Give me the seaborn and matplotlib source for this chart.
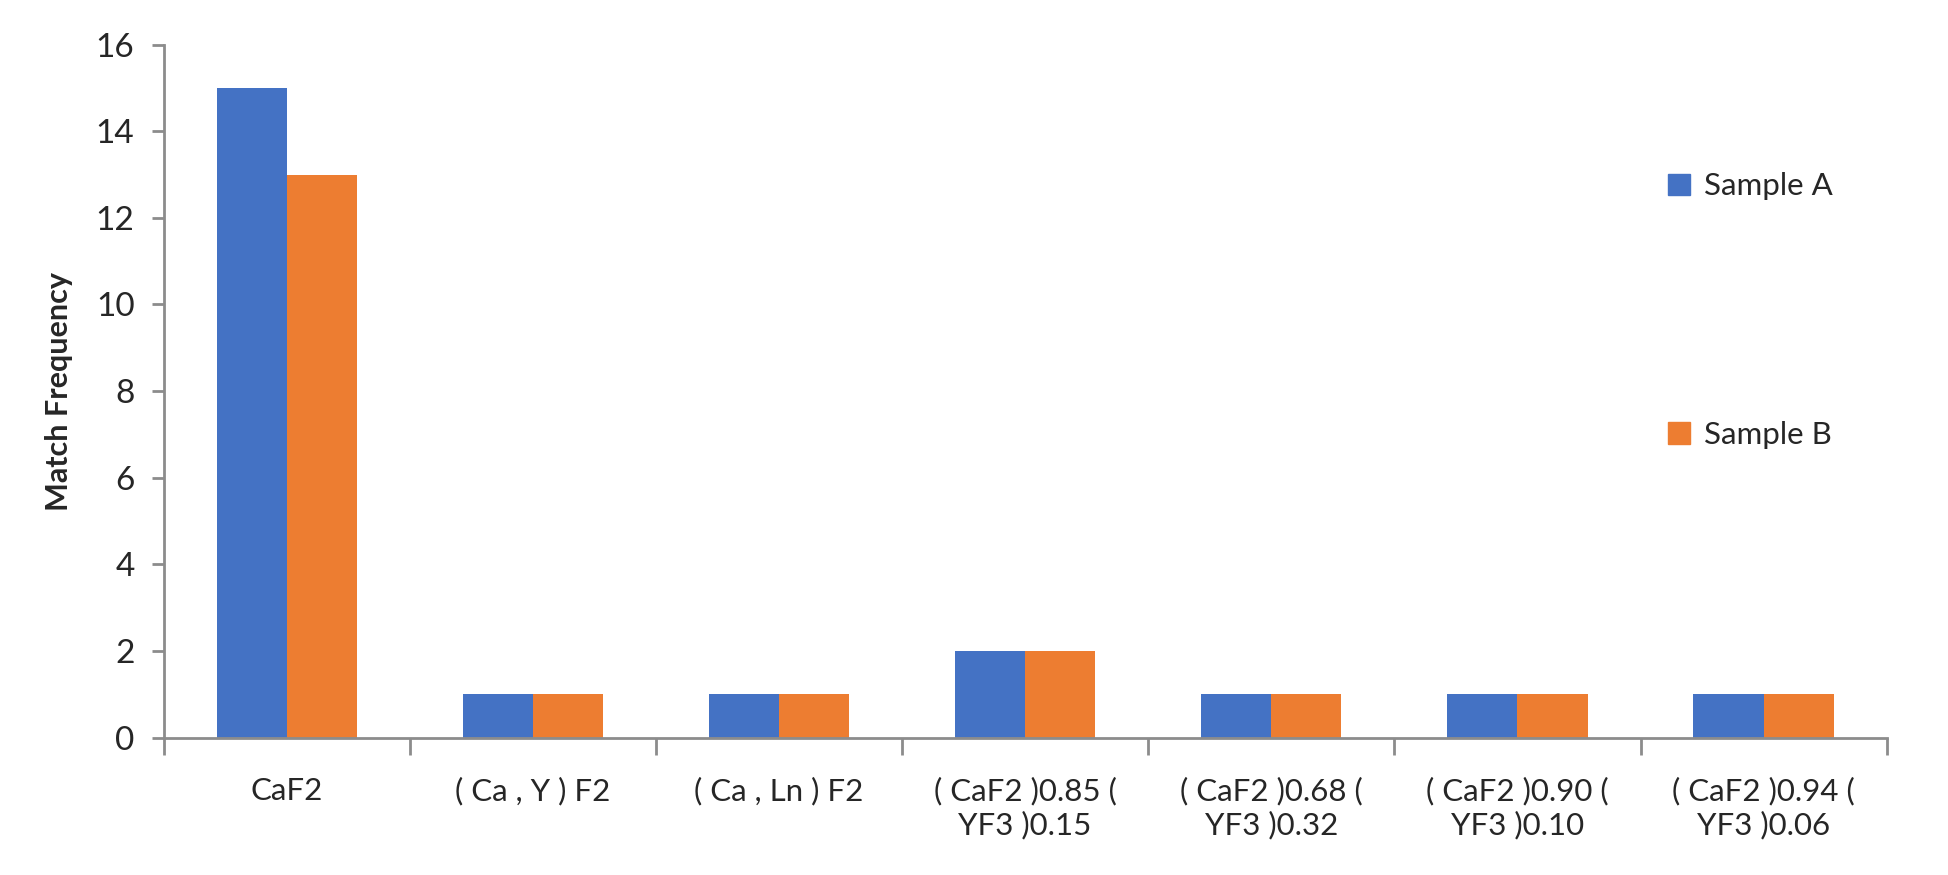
import matplotlib.pyplot as plt
import matplotlib.patches as mpatches
from matplotlib.ticker import FixedLocator
import seaborn as sns
import pandas as pd

sns.set_style("white")
plt.rcParams['font.family'] = ['Lato', 'DejaVu Sans']

categories = ['CaF2', '( Ca , Y ) F2', '( Ca , Ln ) F2',
              '( CaF2 )0.85 (\nYF3 )0.15', '( CaF2 )0.68 (\nYF3 )0.32',
              '( CaF2 )0.90 (\nYF3 )0.10', '( CaF2 )0.94 (\nYF3 )0.06']
sample_a = [15, 1, 1, 2, 1, 1, 1]
sample_b = [13, 1, 1, 2, 1, 1, 1]
series = ['Sample A', 'Sample B']
colors = ['#4472C4', '#ED7D31']
axis_grey = '#8C8C8C'

df = pd.DataFrame({
    'category': categories * 2,
    'value': sample_a + sample_b,
    'series': [series[0]] * len(categories) + [series[1]] * len(categories),
})

fig = plt.figure(figsize=(19.49, 8.75), dpi=100)
ax = fig.add_axes([0.084, 0.157, 0.884, 0.792])

sns.barplot(data=df, x='category', y='value', hue='series', order=categories,
            hue_order=series, palette=colors, width=0.57, gap=0,
            linewidth=0, saturation=1, ax=ax, legend=False)

ax.set_ylim(0, 16)
ax.set_xlim(-0.5, len(categories) - 0.5)
ax.set_yticks(range(0, 17, 2))
ax.set_xlabel('')
ax.set_ylabel('Match Frequency', fontsize=22, fontweight='bold', labelpad=16)

for side in ['top', 'right']:
    ax.spines[side].set_visible(False)
for side in ['left', 'bottom']:
    ax.spines[side].set_color(axis_grey)
    ax.spines[side].set_linewidth(2)

ax.tick_params(axis='y', labelsize=24, length=9, width=2, color=axis_grey,
               direction='out', left=True, pad=12)
ax.tick_params(axis='x', which='major', labelsize=22.5, length=0, pad=28)
ax.xaxis.set_minor_locator(FixedLocator([i - 0.5 for i in range(len(categories) + 1)]))
ax.tick_params(axis='x', which='minor', length=12, width=2, color=axis_grey,
               direction='out', bottom=True)
for lbl in ax.get_xticklabels():
    lbl.set_linespacing(1.25)

handles = [mpatches.Patch(color=c, label=s) for c, s in zip(colors, series)]
fig.legend(handles=handles, loc='upper left', bbox_to_anchor=(0.856, 0.803),
           frameon=False, fontsize=22.5, handlelength=0.7, handleheight=0.7,
           handletextpad=0.45, labelspacing=7.05, borderpad=0, borderaxespad=0)

plt.savefig('out.png', dpi=100)
